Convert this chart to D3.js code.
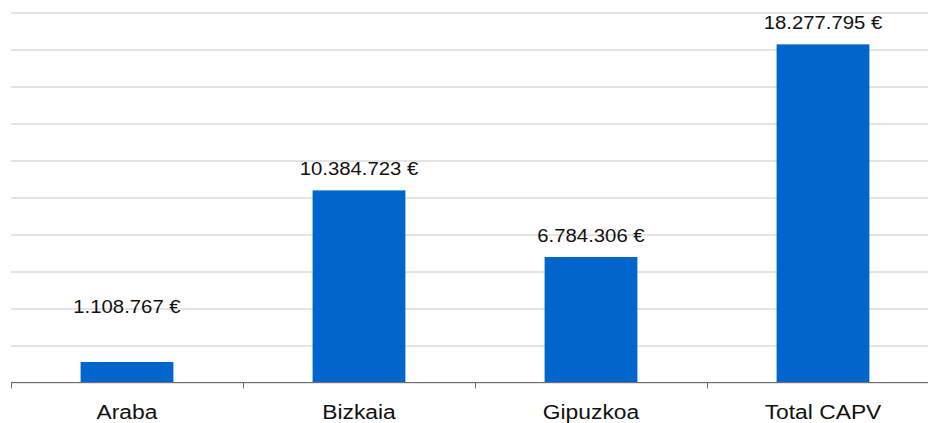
<!DOCTYPE html>
<html>
<head>
<meta charset="utf-8">
<script src="https://cdn.jsdelivr.net/npm/d3@7"></script>
<style>
  body { margin: 0; background: #fff; overflow: hidden; }
  svg { display: block; font-family: "Liberation Sans", Arial, sans-serif; }
  .grid line { stroke: #c8c8c8; stroke-width: 1; }
  .grid .domain { display: none; }
</style>
</head>
<body>
<svg id="chart" width="928" height="423"></svg>
<script>
// chart values
categories = ['Araba', 'Bizkaia', 'Gipuzkoa', 'Total CAPV']
amounts = [1108767, 10384723, 6784306, 18277795]
yTicks = [0, 2e6, 4e6, 6e6, 8e6, 10e6, 12e6, 14e6, 16e6, 18e6, 20e6]

var svg = d3.select('#chart')
var plotLeft = 11, plotRight = 939, plotBase = 382.5, plotTop = 12.5

var x = d3.scaleBand()
          .domain(categories)
          .range([plotLeft, plotRight])
          .paddingInner(0.6)
          .paddingOuter(0.3)

var y = d3.scaleLinear()
          .domain([0, 20e6])
          .range([plotBase, plotTop])

var fmt = function(v) {
  return d3.format(',')(v).replace(/,/g, '.') + ' €'
}

// horizontal gridlines
svg.append('g')
   .attr('class', 'grid')
   .attr('transform', 'translate(' + plotLeft + ',0)')
   .call(d3.axisLeft(y).tickValues(yTicks).tickSize(-(928 - plotLeft)).tickFormat(''))

// bars
svg.selectAll('rect.bar')
   .data(amounts)
   .enter()
   .append('rect')
   .attr('class', 'bar')
   .attr('x', function(d, i) { return x(categories[i]) })
   .attr('width', x.bandwidth())
   .attr('y', function(d) { return y(d) })
   .attr('height', function(d) { return plotBase - y(d) })
   .attr('fill', '#0066cc')

// baseline and separator ticks
svg.append('line')
   .attr('x1', plotLeft).attr('x2', 928)
   .attr('y1', plotBase).attr('y2', plotBase)
   .attr('stroke', '#6e6e6e').attr('stroke-width', 1.2)

svg.selectAll('line.sep')
   .data(categories)
   .enter()
   .append('line')
   .attr('class', 'sep')
   .attr('x1', function(d) { return Math.round(x(d) - x.step() * 0.3) + 0.5 })
   .attr('x2', function(d) { return Math.round(x(d) - x.step() * 0.3) + 0.5 })
   .attr('y1', plotBase).attr('y2', plotBase + 6)
   .attr('stroke', '#6e6e6e')

// value labels
svg.selectAll('text.value')
   .data(amounts)
   .enter()
   .append('text')
   .attr('class', 'value')
   .attr('transform', function(d, i) {
     var cx = x(categories[i]) + x.bandwidth() / 2
     var ty = Math.min(y(d) - 15, plotBase - 70)
     return 'translate(' + cx + ',' + ty + ') scale(1.13,1)'
   })
   .attr('text-anchor', 'middle')
   .attr('font-size', '18px')
   .attr('fill', '#111')
   .text(fmt)

// category labels
svg.selectAll('text.cat')
   .data(categories)
   .enter()
   .append('text')
   .attr('class', 'cat')
   .attr('transform', function(d) {
     return 'translate(' + (x(d) + x.bandwidth() / 2) + ',419) scale(1.17,1)'
   })
   .attr('text-anchor', 'middle')
   .attr('font-size', '19.5px')
   .attr('fill', '#111')
   .text(function(d) { return d })
</script>
</body>
</html>
